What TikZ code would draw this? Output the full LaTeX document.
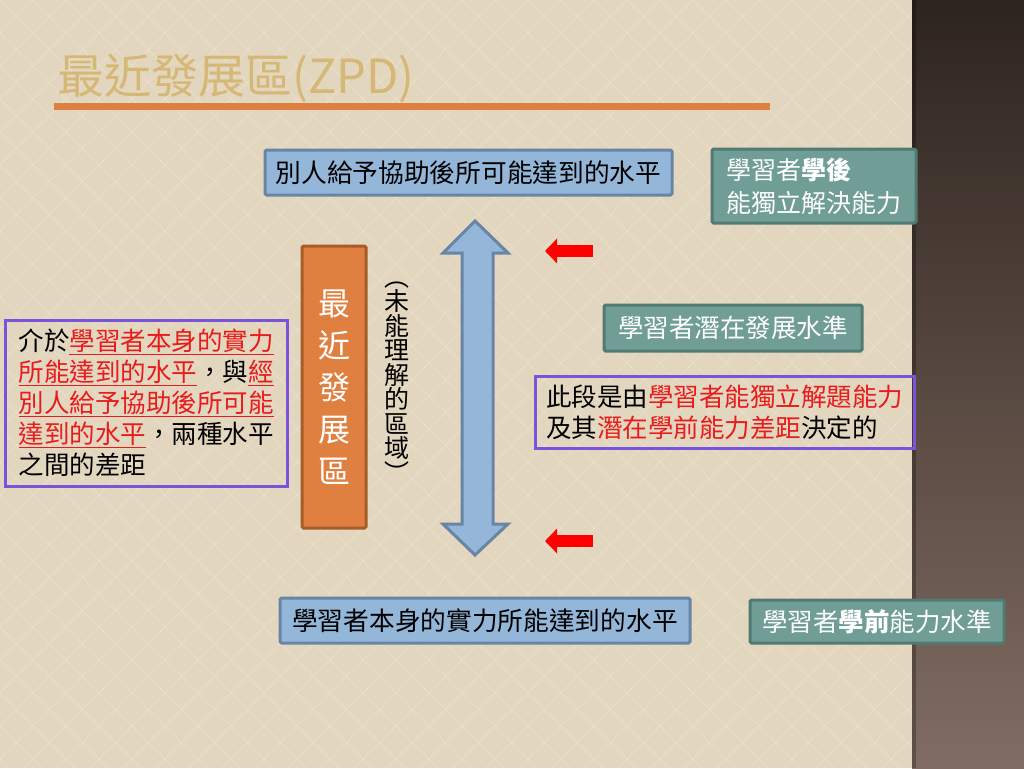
\documentclass[tikz,border=0pt]{standalone}
\usepackage{fontspec}
\usetikzlibrary{arrows.meta}
\newfontfamily\cjk{Noto Sans CJK TC}
\definecolor{bgbeige}{RGB}{226,214,190}
\definecolor{boxblue}{RGB}{148,182,216}
\definecolor{boxblueline}{RGB}{104,134,164}
\definecolor{boxgreen}{RGB}{112,158,150}
\definecolor{boxgreenline}{RGB}{80,122,114}
\definecolor{boxorange}{RGB}{224,128,64}
\definecolor{boxorangeline}{RGB}{168,92,42}
\definecolor{notepurple}{RGB}{122,82,220}
\definecolor{zpdred}{RGB}{232,28,28}
\definecolor{titlegold}{RGB}{214,184,118}
\definecolor{barorange}{RGB}{222,128,66}
\newcommand{\redul}[1]{{\color{zpdred}\underline{#1}}}
\newcommand{\redtx}[1]{{\color{zpdred}#1}}
\tikzset{
  bluebox/.style={draw=boxblueline, fill=boxblue, line width=3pt, rounded corners=1.5pt, inner sep=0pt, text=black, font=\cjk\fontsize{25.7}{32}\selectfont},
  greenbox/.style={draw=boxgreenline, fill=boxgreen, line width=3pt, rounded corners=1.5pt, inner sep=0pt, text=white, align=left, font=\cjk\fontsize{25}{33}\selectfont},
  notebox/.style={draw=notepurple, line width=3pt, inner sep=0pt, text=black, align=left, font=\cjk\fontsize{25.5}{31}\selectfont},
  redarrow/.style={draw=red, line width=12pt, -{Triangle[length=12pt,width=24pt]}},
}

\begin{document}
\begin{tikzpicture}[x=1pt,y=-1pt]
\useasboundingbox (0,0) rectangle (1024,768);
% background and side bar
\fill[bgbeige] (0,0) rectangle (1024,768);
\begin{scope}
	\clip (0,0) rectangle (912,768);
	\foreach \i in {-24,...,52}{
		\draw[white, opacity=0.2, line width=1pt] (\i*33,0) -- ++(768,768);
		\draw[white, opacity=0.2, line width=1pt] (\i*33,0) -- ++(-768,768);
	}
\end{scope}
\shade[top color={rgb,255:red,46;green,36;blue,31}, bottom color={rgb,255:red,128;green,108;blue,98}] (912,0) rectangle (1024,768);
\fill[black, opacity=0.25] (912,0) rectangle (916,768);

% title
\node[anchor=west, inner sep=0pt, text=titlegold, font=\cjk\fontsize{47}{47}\selectfont] (title) at (57,78) {最近發展區(ZPD)};
\coordinate (barl) at (54,106);
\coordinate (barr) at (770,106);
\draw[barorange, line width=7pt] (barl) -- (barr);

% levels
\node[bluebox, minimum width=407pt, minimum height=45pt] (upper) at (468.5,172.5) {別人給予協助後所可能達到的水平};
\node[bluebox, minimum width=410pt, minimum height=45pt] (lower) at (485,620.5) {學習者本身的實力所能達到的水平};
\node[greenbox, minimum width=204pt, minimum height=74pt] (after) at (814,186) {學習者{\bfseries 學後}\\能獨立解決能力};
\node[greenbox, minimum width=258pt, minimum height=46pt, font=\cjk\fontsize{25.5}{33}\selectfont] (potential) at (733,328) {學習者潛在發展水準};
\node[greenbox, minimum width=254pt, minimum height=43pt, font=\cjk\fontsize{25.5}{33}\selectfont] (before) at (877,621.5) {學習者{\bfseries 學前}能力水準};

% zone
\node[draw=boxorangeline, fill=boxorange, line width=3pt, rounded corners=1.5pt, minimum width=64pt, minimum height=282pt, inner sep=0pt, text=white, align=center, font=\cjk\fontsize{32}{42}\selectfont] (zpd) at (334,387) {最\\近\\發\\展\\區};
\node[inner sep=0pt, align=center, text=black, font=\cjk\fontsize{25}{24.5}\selectfont] (unknown) at (397,382) {︵\\未\\能\\理\\解\\的\\區\\域\\︶};

% notes
\node[notebox, minimum width=282pt, minimum height=166pt] (gapnote) at (146,403) {介於\redul{學習者本身的實力}\\\redul{所能達到的水平}，與\redul{經}\\\redul{別人給予協助後所可能}\\\redul{達到的水平}，兩種水平\\之間的差距};
\node[notebox, minimum width=379pt, minimum height=72pt] (rangenote) at (724.5,412) {此段是由\redtx{學習者能獨立解題能力}\\及其\redtx{潛在學前能力差距}決定的};

% double arrow
\draw[fill=boxblue, draw=boxblueline, line width=3pt, line join=miter] (475,221) -- (508,253) -- (493,253) -- (493,524) -- (508,524) -- (475,555) -- (443,524) -- (462,524) -- (462,253) -- (443,253) -- cycle;

% red pointers
\coordinate (p1s) at (593,251);
\coordinate (p1e) at (545,251);
\coordinate (p2s) at (593,541);
\coordinate (p2e) at (545,541);
\draw[redarrow] (p1s) -- (p1e);
\draw[redarrow] (p2s) -- (p2e);
\end{tikzpicture}
\end{document}
